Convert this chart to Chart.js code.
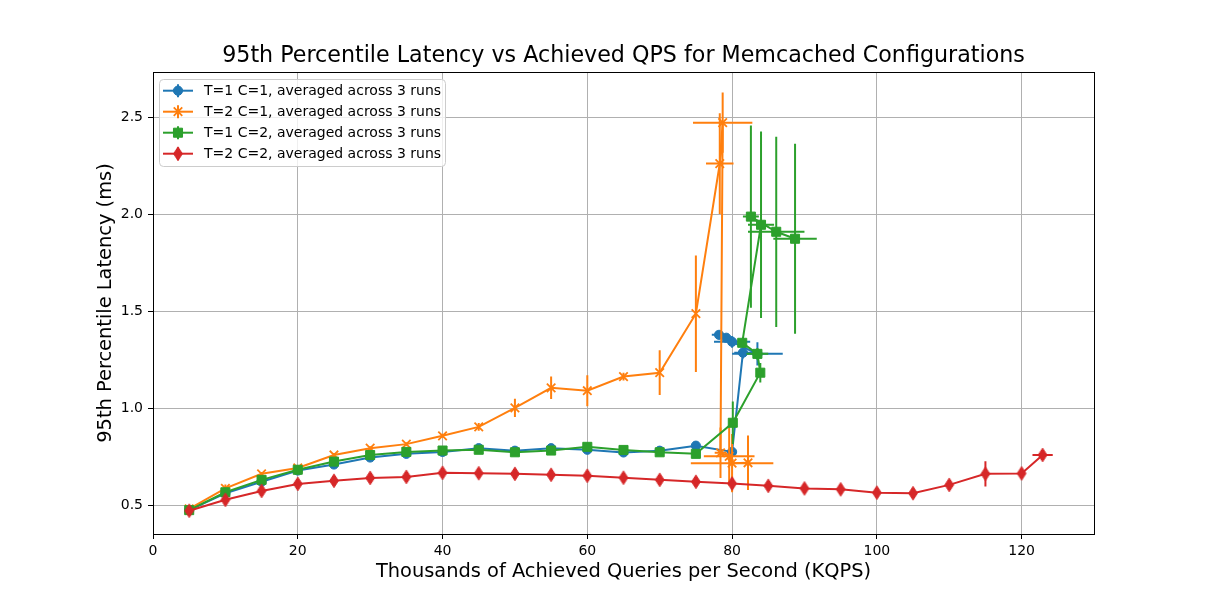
<!DOCTYPE html>
<html><head><meta charset="utf-8">
<script src="https://cdn.jsdelivr.net/npm/chart.js@4"></script>
<style>html,body{margin:0;padding:0;background:#fff}</style>
</head><body>
<canvas id="c" width="1217" height="600"></canvas>
<script>
// ---- data ----
const titleText = "95th Percentile Latency vs Achieved QPS for Memcached Configurations";
const xLabel = "Thousands of Achieved Queries per Second (KQPS)";
const yLabel = "95th Percentile Latency (ms)";
const xTicks = [0, 20, 40, 60, 80, 100, 120];
const yTicks = [0.5, 1.0, 1.5, 2.0, 2.5];
const seriesLabels = ["T=1 C=1, averaged across 3 runs", "T=2 C=1, averaged across 3 runs",
                      "T=1 C=2, averaged across 3 runs", "T=2 C=2, averaged across 3 runs"];

const blueX = [5,10,15,20,25,30,35,40,45,50,55,60,65,70,75,80.0,81.5,83.5,80.0,79.2,78.2];
const blueY = [0.478,0.565,0.624,0.682,0.713,0.749,0.768,0.778,0.797,0.784,0.797,0.789,0.775,0.784,0.81,0.778,1.289,1.283,1.345,1.366,1.381];
const blueXErr = [0,0,0,0,0,0,0,0,0,0,0,0,0,0,0,0.5,1.2,3.5,2.5,1.0,1.0];
const blueYErr = [0,0,0,0,0,0,0,0,0,0,0,0,0,0,0.01,0.02,0.03,0.06,0.03,0.02,0.02];

const orangeX = [5,10,15,20,25,30,35,40,45,50,55,60,65,70,75,78.3,78.7,78.4,79.6,80.0,82.2];
const orangeY = [0.485,0.59,0.665,0.695,0.762,0.797,0.818,0.861,0.907,1.005,1.108,1.093,1.166,1.186,1.49,2.263,2.474,0.773,0.755,0.72,0.722];
const orangeXErr = [0,0,0,0,0,0,0,0,0,0,0,0,0,0,0,1.9,4.1,0.8,3.5,5.7,0.3];
const orangeYErr = [0,0.02,0.01,0.01,0.01,0.01,0.01,0.01,0.02,0.047,0.058,0.08,0.02,0.115,0.30,0.26,0.155,0.13,0.15,0.15,0.14];

const greenX = [5,10,15,20,25,30,35,40,45,50,55,60,65,70,75,80.1,83.9,83.5,81.4,84.0,82.6,86.1,88.7];
const greenY = [0.478,0.57,0.634,0.686,0.728,0.762,0.778,0.785,0.789,0.776,0.785,0.804,0.788,0.776,0.768,0.928,1.186,1.283,1.34,1.948,1.99,1.912,1.876];
const greenXErr = [0,0,0,0,0,0,0,0,0,0,0,0,0,0,0,0.3,0.3,1.5,0.5,1.8,1.1,3.9,3.0];
const greenYErr = [0,0,0,0,0,0,0,0,0,0,0,0,0,0,0.01,0.11,0.05,0.03,0.02,0.48,0.47,0.49,0.49];

const redX = [5,10,15,20,25,30,35,40,45,50,55,60,65,70,75,80,85,90,95,100,105,110,115,120,122.9];
const redY = [0.475,0.531,0.577,0.613,0.629,0.644,0.649,0.67,0.668,0.665,0.66,0.655,0.645,0.634,0.624,0.615,0.603,0.59,0.585,0.568,0.565,0.608,0.665,0.667,0.762];
const redXErr = [0,0,0,0,0,0,0,0,0,0,0,0,0,0,0,0,0,0,0,0,0,0,0,0,1.4];
const redYErr = [0,0,0,0,0,0,0,0,0,0,0,0,0,0,0,0.03,0,0,0,0,0,0.02,0.065,0.01,0.015];

const colors = ["#1f77b4", "#ff7f0e", "#2ca02c", "#d62728"];
// ---- end data ----

const FONT = "DejaVu Sans";

function thinDiamond(color) {
  const cv = document.createElement('canvas');
  cv.width = 12; cv.height = 16;
  const g = cv.getContext('2d');
  g.fillStyle = color; g.strokeStyle = color; g.lineWidth = 1;
  g.beginPath();
  g.moveTo(6, 1.2); g.lineTo(10.4, 8); g.lineTo(6, 14.8); g.lineTo(1.6, 8); g.closePath();
  g.fill(); g.stroke();
  return cv;
}
const diamondImg = thinDiamond(colors[3]);

const series = [
  {x: blueX, y: blueY, xe: blueXErr, ye: blueYErr, style: 'circle', radius: 4.6, bw: 1, order: 3},
  {x: orangeX, y: orangeY, xe: orangeXErr, ye: orangeYErr, style: 'crossRot', radius: 6, bw: 1.8, order: 2},
  {x: greenX, y: greenY, xe: greenXErr, ye: greenYErr, style: 'rect', radius: 6.4, bw: 1, order: 1},
  {x: redX, y: redY, xe: redXErr, ye: redYErr, style: diamondImg, radius: 6, bw: 1, order: 0}
];

const datasets = series.map((s, i) => ({
  label: seriesLabels[i],
  data: s.x.map((xv, k) => ({x: xv, y: s.y[k]})),
  showLine: true,
  borderColor: colors[i],
  backgroundColor: colors[i],
  borderWidth: 2,
  pointStyle: s.style,
  pointRadius: s.radius,
  pointBorderWidth: s.bw,
  pointBorderColor: colors[i],
  pointBackgroundColor: colors[i],
  order: s.order,
  tension: 0
}));

const errPlugin = {
  id: 'errBars',
  beforeDatasetDraw(chart, args) {
    const s = series[args.index];
    const sx = chart.scales.x, sy = chart.scales.y, a = chart.chartArea, ctx = chart.ctx;
    ctx.save();
    ctx.beginPath(); ctx.rect(a.left, a.top, a.right - a.left, a.bottom - a.top); ctx.clip();
    ctx.strokeStyle = colors[args.index]; ctx.lineWidth = 2;
    ctx.beginPath();
    s.x.forEach((xv, k) => {
      const yv = s.y[k], ex = s.xe[k], ey = s.ye[k];
      const px = sx.getPixelForValue(xv), py = sy.getPixelForValue(yv);
      if (ex > 0) { ctx.moveTo(sx.getPixelForValue(xv - ex), py); ctx.lineTo(sx.getPixelForValue(xv + ex), py); }
      if (ey > 0) { ctx.moveTo(px, sy.getPixelForValue(yv - ey)); ctx.lineTo(px, sy.getPixelForValue(yv + ey)); }
    });
    ctx.stroke();
    ctx.restore();
  }
};

const framePlugin = {
  id: 'frameLegend',
  afterDraw(chart) {
    const ctx = chart.ctx, a = chart.chartArea;
    ctx.save();
    // title
    ctx.fillStyle = '#000';
    ctx.font = '22.2px "' + FONT + '"';
    ctx.textAlign = 'center'; ctx.textBaseline = 'middle';
    ctx.fillText(titleText, (a.left + a.right) / 2, 56);
    // frame
    ctx.strokeStyle = '#000'; ctx.lineWidth = 1;
    ctx.strokeRect(Math.round(a.left) + 0.5, Math.round(a.top) + 0.5, Math.round(a.right - a.left), Math.round(a.bottom - a.top));
    // legend
    const lx = 159.5, ly = 79.5, lw = 286, lh = 87, r = 4;
    ctx.beginPath();
    ctx.moveTo(lx + r, ly); ctx.lineTo(lx + lw - r, ly); ctx.quadraticCurveTo(lx + lw, ly, lx + lw, ly + r);
    ctx.lineTo(lx + lw, ly + lh - r); ctx.quadraticCurveTo(lx + lw, ly + lh, lx + lw - r, ly + lh);
    ctx.lineTo(lx + r, ly + lh); ctx.quadraticCurveTo(lx, ly + lh, lx, ly + lh - r);
    ctx.lineTo(lx, ly + r); ctx.quadraticCurveTo(lx, ly, lx + r, ly); ctx.closePath();
    ctx.fillStyle = 'rgba(255,255,255,0.8)'; ctx.fill();
    ctx.strokeStyle = '#cccccc'; ctx.lineWidth = 1; ctx.stroke();
    series.forEach((s, i) => {
      const y = 90.7 + i * 21, c = colors[i];
      ctx.strokeStyle = c; ctx.fillStyle = c; ctx.lineWidth = 2;
      ctx.beginPath(); ctx.moveTo(163, y); ctx.lineTo(193, y); ctx.stroke();
      ctx.beginPath(); ctx.moveTo(178, y - 6.5); ctx.lineTo(178, y + 6.5); ctx.stroke();
      ctx.lineWidth = s.bw;
      Chart.helpers.drawPoint(ctx, {pointStyle: s.style, radius: s.radius, rotation: 0, borderWidth: s.bw}, 178, y);
      ctx.fillStyle = '#000';
      ctx.font = '14px "' + FONT + '"';
      ctx.textBaseline = 'middle'; ctx.textAlign = 'left';
      ctx.fillText(seriesLabels[i], 204, y + 0.5);
    });
    ctx.restore();
  }
};

new Chart(document.getElementById('c'), {
  type: 'scatter',
  data: {datasets},
  plugins: [errPlugin, framePlugin],
  options: {
    responsive: false,
    animation: false,
    devicePixelRatio: 1,
    layout: {padding: {left: 0, right: 123, top: 72, bottom: 0}},
    plugins: {
      legend: {display: false},
      tooltip: {enabled: false},
      title: {display: false}
    },
    scales: {
      x: {
        type: 'linear', min: 0, max: 130,
        afterBuildTicks: s => { s.ticks = xTicks.map(v => ({value: v})); },
        afterFit: s => { s.height = 66; },
        ticks: {color: '#000', font: {family: FONT, size: 14}, padding: 4, callback: v => String(v), maxRotation: 0},
        grid: {color: '#b0b0b0', lineWidth: 1, tickColor: '#000', tickLength: 5},
        border: {color: '#000', width: 1},
        title: {display: true, text: xLabel, color: '#000', font: {family: FONT, size: 19.4}, padding: {top: 0, bottom: 16}}
      },
      y: {
        type: 'linear', min: 0.355, max: 2.735,
        afterBuildTicks: s => { s.ticks = yTicks.map(v => ({value: v})); },
        afterFit: s => { s.width = 153; },
        ticks: {color: '#000', font: {family: FONT, size: 14}, padding: 5, callback: v => Number(v).toFixed(1)},
        grid: {color: '#b0b0b0', lineWidth: 1, tickColor: '#000', tickLength: 5},
        border: {color: '#000', width: 1},
        title: {display: true, text: yLabel, color: '#000', font: {family: FONT, size: 19.4}, padding: {top: 94, bottom: 0}}
      }
    }
  }
});
</script>
</body></html>
